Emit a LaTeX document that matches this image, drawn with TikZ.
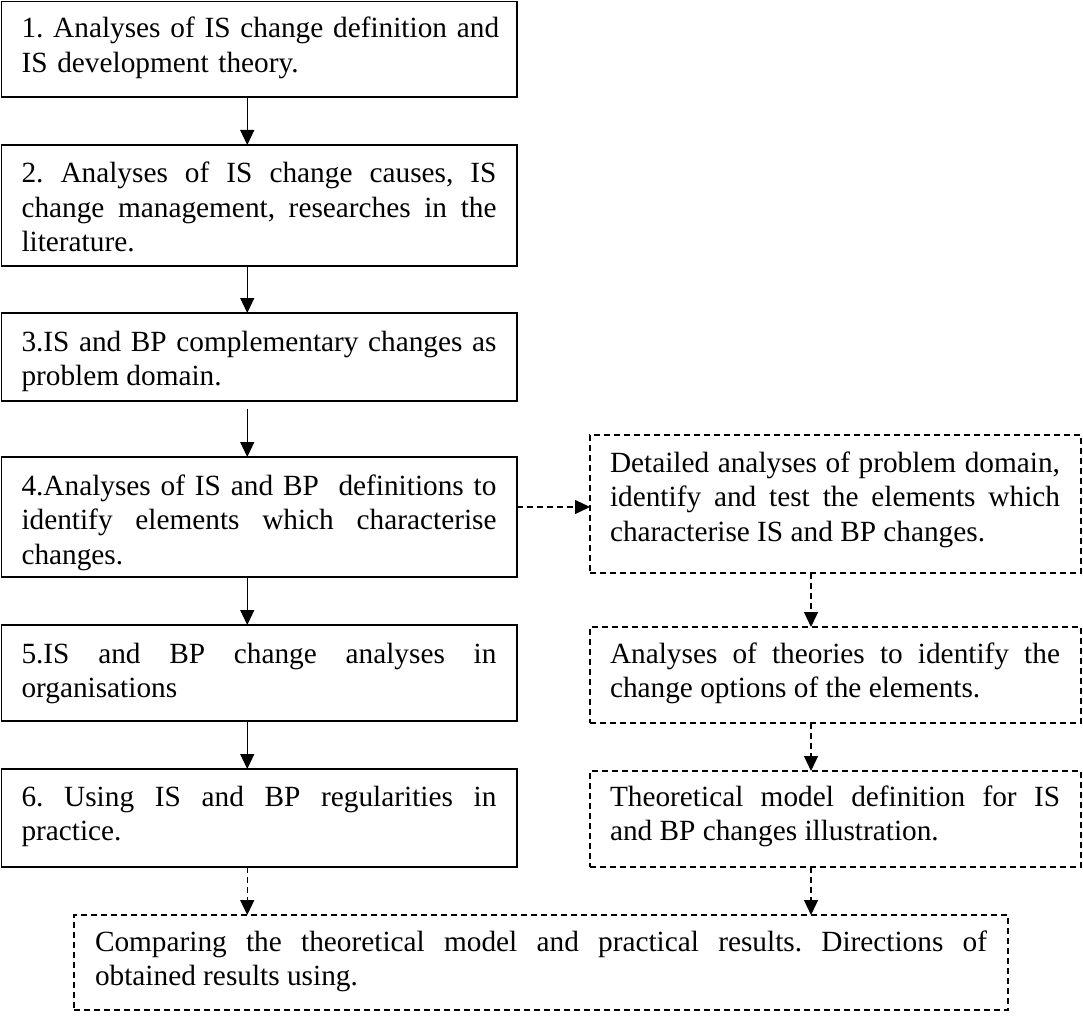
\documentclass[tikz,border=0pt]{standalone}
\usepackage{fontspec}
\setmainfont{Liberation Serif}
\usetikzlibrary{arrows.meta}
\begin{document}
\begin{tikzpicture}[x=1pt,y=-1pt,
  box/.style={draw, line width=1.4pt, inner sep=0pt, outer sep=0pt, anchor=north west},
  dbox/.style={box, line width=1.2pt, dash pattern=on 6pt off 4pt},
  lbox/.style={box, minimum width=515.5pt},
  rbox/.style={dbox, minimum width=491pt},
  txt/.style={anchor=base west, inner sep=0pt, outer sep=0pt, align=justify,
    font=\fontsize{29.3}{34.5}\selectfont,
    execute at begin node={\frenchspacing\tolerance=10000\hbadness=10000\hyphenpenalty=10000\pretolerance=-1}},
  ltxt/.style={txt, text width=475pt},
  rtxt/.style={txt, text width=450pt},
  arr/.style={-{Triangle[length=15pt,width=14pt]}, line width=1.2pt},
  darr/.style={arr, dash pattern=on 6pt off 4pt}]
\useasboundingbox (0,0) rectangle (1083,1016);
% left column
\node[lbox, minimum height=95.5pt] (b1) at (1.5,1.5) {};
\node[lbox, minimum height=121pt] (b2) at (1.5,145) {};
\node[lbox, minimum height=88pt] (b3) at (1.5,313) {};
\node[lbox, minimum height=120pt] (b4) at (1.5,457) {};
\node[lbox, minimum height=96pt] (b5) at (1.5,625) {};
\node[lbox, minimum height=98pt] (b6) at (1.5,769) {};
% right column
\node[rbox, minimum height=138pt] (r1) at (590,435) {};
\node[rbox, minimum height=96pt] (r2) at (590,627) {};
\node[rbox, minimum height=96pt] (r3) at (590,771) {};
% bottom
\node[dbox, minimum width=934pt, minimum height=95pt] (bb) at (74,915) {};
% texts
\node[txt, text width=510pt, align=left] (t1) at ([xshift=20pt,yshift=-36.5pt]b1.north west)
  {1. Analyses of IS change definition and\\IS development theory.};
\node[ltxt] (t2) at ([xshift=20pt,yshift=-38pt]b2.north west)
  {2. Analyses of IS change causes, IS\linebreak change management, researches in the\linebreak literature.};
\node[ltxt] (t3) at ([xshift=20pt,yshift=-38pt]b3.north west)
  {3.IS and BP complementary changes as\linebreak problem domain.};
\node[ltxt] (t4) at ([xshift=20pt,yshift=-38pt]b4.north west)
  {4.Analyses of IS and BP\ \ definitions to\linebreak identify elements which characterise\linebreak changes.};
\node[ltxt] (t5) at ([xshift=20pt,yshift=-38pt]b5.north west)
  {5.IS and BP change analyses in\linebreak organisations};
\node[ltxt] (t6) at ([xshift=20pt,yshift=-37pt]b6.north west)
  {6. Using IS and BP regularities in\linebreak practice.};
\node[rtxt] (s1) at ([xshift=20pt,yshift=-37pt]r1.north west)
  {Detailed analyses of problem domain,\linebreak identify and test the elements which\linebreak characterise IS and BP changes.};
\node[rtxt] (s2) at ([xshift=20pt,yshift=-36pt]r2.north west)
  {Analyses of theories to identify the\linebreak change options of the elements.};
\node[rtxt] (s3) at ([xshift=20pt,yshift=-35pt]r3.north west)
  {Theoretical model definition for IS\linebreak and BP changes illustration.};
\node[txt, text width=892pt] (tb) at ([xshift=21pt,yshift=-36pt]bb.north west)
  {Comparing the theoretical model and practical results. Directions of\linebreak obtained results using.};
% connectors
\draw[arr] ([xshift=-12pt]b1.south) -- ([xshift=-12pt]b2.north);
\draw[arr] ([xshift=-12pt]b2.south) -- ([xshift=-12pt]b3.north);
\draw[arr] ([xshift=-12pt,yshift=-8pt]b3.south) -- ([xshift=-12pt]b4.north);
\draw[arr] ([xshift=-12pt]b4.south) -- ([xshift=-12pt]b5.north);
\draw[arr] ([xshift=-12pt]b5.south) -- ([xshift=-12pt]b6.north);
\draw[darr] ([xshift=-12pt]b6.south) -- ([xshift=-12pt]b6.south |- bb.north);
\draw[darr] ([yshift=10pt]b4.east) -- ([yshift=10pt]b4.east -| r1.west);
\draw[darr] ([xshift=-24.5pt]r1.south) -- ([xshift=-24.5pt]r2.north);
\draw[darr] ([xshift=-24.5pt]r2.south) -- ([xshift=-24.5pt]r3.north);
\draw[darr] ([xshift=-24.5pt]r3.south) -- ([xshift=-24.5pt]r3.south |- bb.north);
\end{tikzpicture}
\end{document}
